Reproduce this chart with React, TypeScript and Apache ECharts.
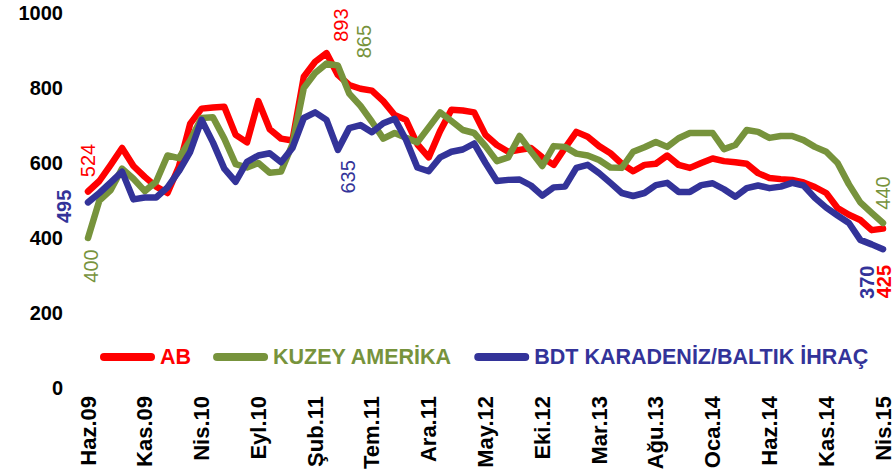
import React, { useEffect, useRef } from "react";
import * as echarts from "echarts";

const MONTHS = ["Oca", "Şub", "Mar", "Nis", "May", "Haz", "Tem", "Ağu", "Eyl", "Eki", "Kas", "Ara"];
const categories: string[] = [];
for (let k = 0; k < 71; k++) {
  const m = (5 + k) % 12;
  const y = 9 + Math.floor((5 + k) / 12);
  categories.push(`${MONTHS[m]}.${String(y).padStart(2, "0")}`);
}

const seriesNames = ["AB", "KUZEY AMERİKA", "BDT KARADENİZ/BALTIK İHRAÇ"];

const abValues = [
  524, 552, 595, 640, 592, 563, 537, 520, 590, 705,
  745, 748, 750, 675, 655, 765, 690, 665, 660, 830,
  870, 893, 835, 808, 798, 793, 765, 728, 715, 650,
  615, 685, 742, 740, 735, 675, 648, 630, 635, 640,
  615, 595, 640, 683, 670, 645, 626, 598, 578, 595,
  598, 620, 595, 587, 600, 612, 605, 602, 598, 573,
  560, 557, 555, 548, 536, 520, 480, 462, 448, 421,
  425,
];

const kuzeyValues = [
  400, 500, 528, 585, 558, 525, 550, 620, 613, 660,
  720, 722, 665, 597, 588, 600, 574, 577, 650, 800,
  840, 865, 860, 785, 752, 710, 665, 680, 667, 655,
  695, 735, 712, 688, 680, 645, 605, 615, 672, 631,
  592, 645, 643, 625, 620, 608, 588, 587, 630, 642,
  656, 643, 666, 680, 680, 680, 637, 648, 688, 683,
  667, 672, 672, 661, 643, 630, 600, 543, 495, 467,
  440,
];

const bdtValues = [
  495, 520, 548, 577, 503, 508, 508, 535, 578, 630,
  715, 655, 585, 550, 603, 620, 626, 602, 640, 720,
  735, 715, 635, 693, 701, 682, 706, 718, 662, 588,
  578, 615, 630, 636, 652, 600, 552, 555, 556, 540,
  513, 535, 537, 587, 595, 573, 547, 520, 512, 520,
  541, 547, 523, 523, 541, 546, 530, 510, 533, 540,
  533, 537, 547, 540, 507, 481, 460, 440, 395, 383,
  370,
];

const allValues = [abValues, kuzeyValues, bdtValues];
const colors = ["#FF0000", "#77933C", "#333399"];

// annotated points: series index, point index
const labelPoints = [
  { s: 0, i: 0 },
  { s: 0, i: 21 },
  { s: 0, i: 70 },
  { s: 1, i: 0 },
  { s: 1, i: 21 },
  { s: 1, i: 70 },
  { s: 2, i: 0 },
  { s: 2, i: 22 },
  { s: 2, i: 70 },
];
// label placement on screen [dx, dy] (style, kept separate from data)
const labelScreenOffsets: number[][] = [
  [0, -31], [14, -28], [1, 53],
  [3, 28], [37, -22], [0, -30],
  [-24, 4], [10, 27], [-16, 33],
];
const labelBold = [false, false, true, false, false, false, true, false, true];

const FONT = "'Liberation Sans', Arial, sans-serif";
const PILL = "path://M4,0 L51,0 A4,4 0 0 1 51,8 L4,8 A4,4 0 0 1 4,0 Z";

export default function App() {
  const ref = useRef<HTMLDivElement>(null);
  useEffect(() => {
    document.body.style.margin = "0";
    if (!ref.current) return;
    const chart = echarts.init(ref.current, undefined, { renderer: "svg" });
    const series = allValues.map((vals, s) => ({
      name: seriesNames[s],
      type: "line",
      data: vals,
      showSymbol: false,
      symbol: "none",
      lineStyle: { color: colors[s], width: 6.5, join: "round", cap: "round" },
      itemStyle: { color: colors[s] },
      z: 2 + s,
      markPoint: {
        symbol: "circle",
        symbolSize: 2,
        itemStyle: { color: colors[s] },
        data: labelPoints
          .map((p, k) => ({ p, k }))
          .filter(({ p }) => p.s === s)
          .map(({ p, k }) => {
            const [dx, dy] = labelScreenOffsets[k];
            return {
              coord: [categories[p.i], vals[p.i]],
              value: vals[p.i],
              label: {
                show: true,
                position: "inside",
                formatter: String(vals[p.i]),
                rotate: 90,
                // offset is applied in the rotated frame
                offset: [-dy, dx],
                color: colors[s],
                fontSize: 20,
                fontFamily: FONT,
                fontWeight: labelBold[k] ? "bold" : "normal",
                align: "center",
                verticalAlign: "middle",
              },
            };
          }),
      },
    }));
    chart.setOption({
      animation: false,
      backgroundColor: "#ffffff",
      grid: { left: 88, right: 9, top: 13, bottom: 86, containLabel: false },
      legend: {
        left: 100,
        top: 346,
        padding: 0,
        itemGap: 22,
        itemWidth: 55,
        itemHeight: 8,
        icon: PILL,
        textStyle: { fontSize: 21.5, fontWeight: "bold", fontFamily: FONT },
        data: seriesNames.map((n, s) => ({
          name: n,
          itemStyle: { color: colors[s] },
          textStyle: { color: colors[s], fontSize: 21.5, fontWeight: "bold", fontFamily: FONT },
        })),
      },
      xAxis: {
        type: "category",
        data: categories,
        boundaryGap: false,
        axisLine: { show: false },
        axisTick: { show: false },
        splitLine: { show: false },
        axisLabel: {
          interval: 4,
          rotate: 90,
          margin: 8,
          color: "#000",
          fontSize: 22,
          fontWeight: "bold",
          fontFamily: FONT,
        },
      },
      yAxis: {
        type: "value",
        min: 0,
        max: 1000,
        interval: 200,
        axisLine: { show: false },
        axisTick: { show: false },
        splitLine: { show: false },
        axisLabel: {
          margin: 25,
          color: "#000",
          fontSize: 20,
          fontWeight: "bold",
          fontFamily: FONT,
          formatter: (v: number) => String(v),
        },
      },
      series,
    });
    return () => chart.dispose();
  }, []);
  return <div ref={ref} style={{ width: 894, height: 474 }} />;
}
